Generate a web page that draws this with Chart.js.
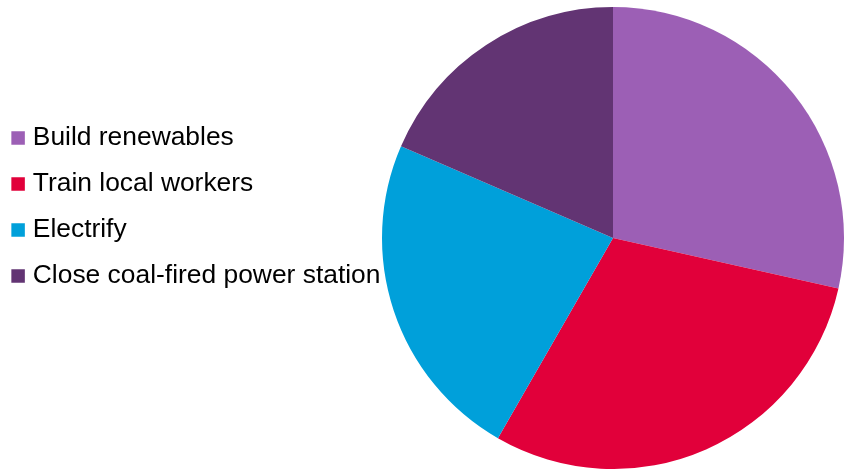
<!DOCTYPE html>
<html>
<head>
<meta charset="utf-8">
<script src="https://cdn.jsdelivr.net/npm/chart.js@4"></script>
<style>
  html, body { margin: 0; padding: 0; background: #ffffff; }
  #wrap { width: 846px; height: 469px; }
</style>
</head>
<body>
<div id="wrap"><canvas id="chart-actions"></canvas></div>
<script>
// --- DADOS ---
const categories = [
  "Build renewables",
  "Train local workers",
  "Electrify",
  "Close coal-fired power station",
];
const shares = [28.5, 29.8, 23.2, 18.5];
const sliceColors = ["#9C5FB5", "#E1003A", "#00A0DA", "#623473"];

// move a legenda para cima (o centro padrão fica baixo demais)
const legendShift = {
  id: "legendShift",
  afterLayout(chart) {
    chart.legend.top -= 31;
    chart.legend.bottom -= 31;
  },
};

const ctx = document.getElementById("chart-actions").getContext("2d");

new Chart(ctx, {
  type: "pie",
  data: {
    labels: categories,
    datasets: [
      {
        data: shares,
        backgroundColor: sliceColors,
        borderWidth: 0,
      },
    ],
  },
  options: {
    responsive: true,
    maintainAspectRatio: false,
    animation: false,
    layout: { padding: { left: -3, top: 7, right: 0, bottom: 0 } },
    plugins: {
      tooltip: { enabled: false },
      legend: {
        position: "left",
        maxWidth: 383,
        labels: {
          color: "#000000",
          font: { family: "'Liberation Sans', Arial, sans-serif", size: 26.4 },
          usePointStyle: true,
          pointStyle: "rect",
          boxHeight: 13.5,
          boxWidth: 3,
          padding: 19.6,
        },
      },
    },
  },
  plugins: [legendShift],
});
</script>
</body>
</html>
